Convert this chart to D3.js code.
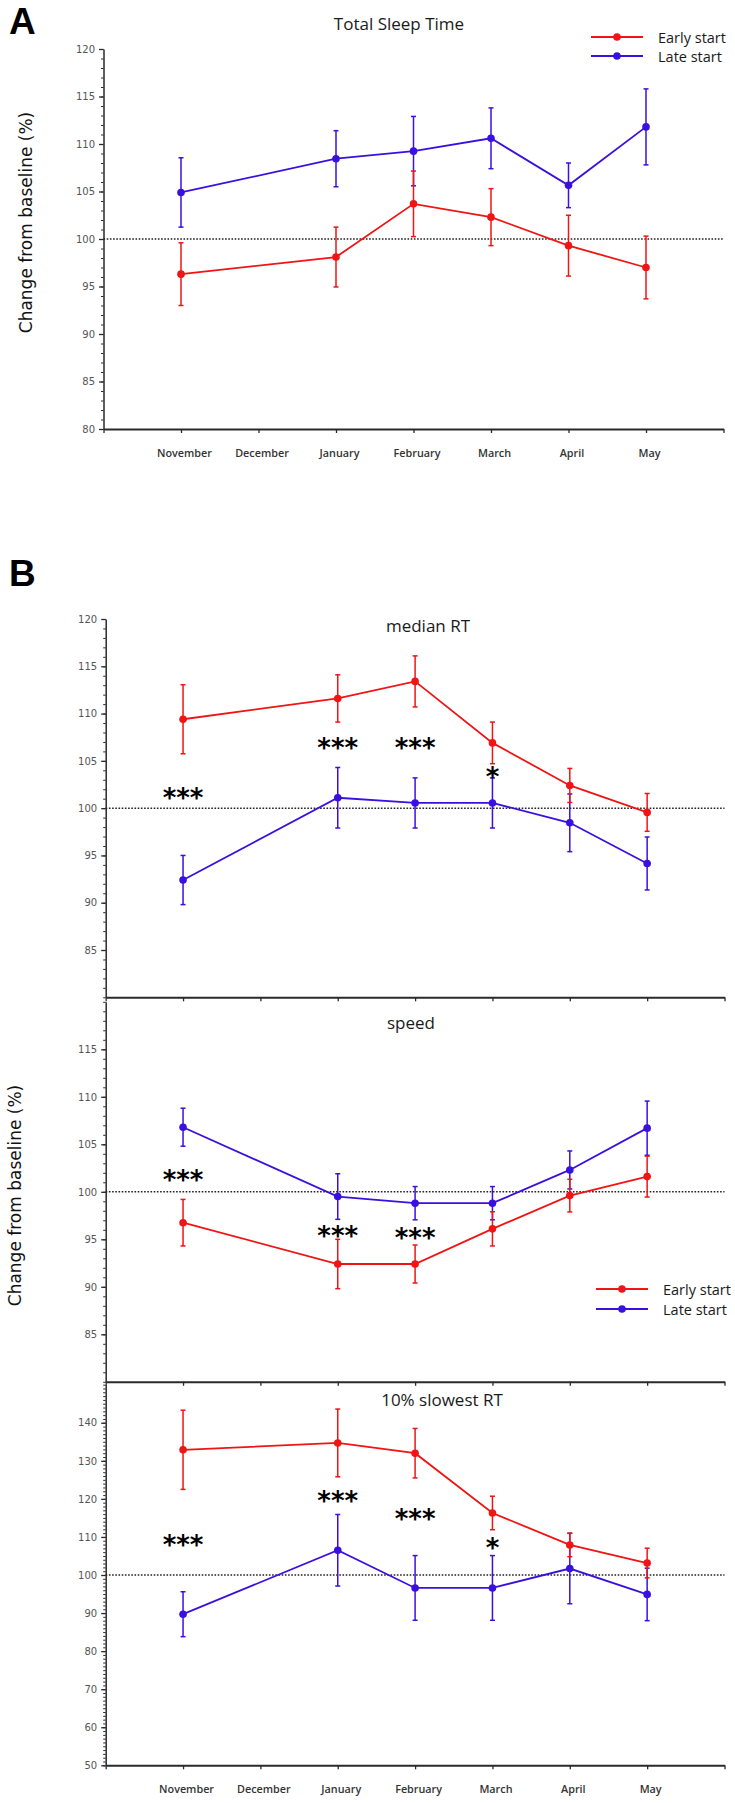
<!DOCTYPE html>
<html><head><meta charset="utf-8">
<script src="https://cdn.jsdelivr.net/npm/d3@7"></script>
<style>body{margin:0;background:#fff} svg{display:block}</style>
</head><body>
<script>
// ---------- DATA ----------
const axisMonths = ["November","December","January","February","March","April","May"];
const dataMonths = ["November","January","February","March","April","May"];
const seriesNames = ["Early start","Late start"];

// A: Total Sleep Time (mean, SEM)
const sleepEarly    = [96.3, 98.1, 103.7, 102.3, 99.3, 97.0];
const sleepEarlySem = [3.3, 3.15, 3.45, 3.0, 3.2, 3.3];
const sleepLate     = [104.9, 108.45, 109.25, 110.6, 105.65, 111.8];
const sleepLateSem  = [3.65, 2.95, 3.65, 3.2, 2.35, 4.0];

// B1: median RT
const medEarly    = [109.4, 111.6, 113.4, 106.9, 102.4, 99.55];
const medEarlySem = [3.65, 2.5, 2.7, 2.2, 1.8, 2.0];
const medLate     = [92.4, 101.1, 100.55, 100.55, 98.45, 94.15];
const medLateSem  = [2.6, 3.2, 2.65, 2.65, 3.05, 2.8];
const medStarMonths = ["November","January","February","March"];
const medStarText   = ["***","***","***","*"];
const medStarY      = [101.6, 106.9, 106.85, 103.8];

// B2: speed
const spdEarly    = [96.75, 92.4, 92.4, 96.1, 99.6, 101.6];
const spdEarlySem = [2.45, 2.6, 2.0, 1.8, 1.72, 2.15];
const spdLate     = [106.8, 99.5, 98.8, 98.8, 102.3, 106.7];
const spdLateSem  = [2.0, 2.4, 1.75, 1.75, 2.0, 2.85];
const spdStarMonths = ["November","January","February"];
const spdStarText   = ["***","***","***"];
const spdStarY      = [101.8, 95.9, 95.7];

// B3: 10% slowest RT
const slowEarly    = [132.9, 134.7, 132.0, 116.3, 107.9, 103.15];
const slowEarlySem = [10.4, 8.9, 6.5, 4.4, 3.1, 3.9];
const slowLate     = [89.7, 106.5, 96.6, 96.6, 101.7, 94.9];
const slowLateSem  = [5.9, 9.4, 8.5, 8.5, 9.25, 6.9];
const slowStarMonths = ["November","January","February","March"];
const slowStarText   = ["***","***","***","*"];
const slowStarY      = [109.1, 120.8, 116.1, 108.4];

// y tick labels
const ticksA    = [80,85,90,95,100,105,110,115,120];
const ticksMed  = [85,90,95,100,105,110,115,120];
const ticksSpd  = [85,90,95,100,105,110,115];
const ticksSlow = [50,60,70,80,90,100,110,120,130,140];

// ---------- DRAW ----------
const W = 735, H = 1803;
const RED = "#f01414", BLUE = "#3a10e0", AX = "#2a2a2a";
const svg = d3.select("body").append("svg").attr("width", W).attr("height", H)
  .style("font-family", "'Open Sans', sans-serif");
const xDomain = ["_s", ...axisMonths, "_e"];

function drawPanel(c) {
  const x = d3.scalePoint().domain(xDomain).range([c.x0, c.x1]).padding(0);
  const y = d3.scaleLinear().domain(c.domain).range([c.yBot, c.yTop]);
  const g = svg.append("g");

  // minor y ticks
  const minor = d3.range(c.domain[0], c.domain[1] + 0.001, 1);
  const ym = g.append("g").attr("transform", `translate(${c.x0},0)`)
    .call(d3.axisLeft(y).tickValues(minor).tickSize(2.5).tickSizeOuter(0).tickFormat(""));
  ym.select(".domain").attr("stroke", AX).attr("stroke-width", 1.5);
  ym.selectAll(".tick line").attr("stroke", AX).attr("stroke-width", 1);

  const ya = g.append("g").attr("transform", `translate(${c.x0},0)`)
    .call(d3.axisLeft(y).tickValues(c.ticks).tickSize(4.5).tickSizeOuter(0).tickPadding(4));
  ya.select(".domain").remove();
  ya.selectAll(".tick line").attr("stroke", AX).attr("stroke-width", 1.3);
  ya.selectAll(".tick text").attr("fill", "#555")
    .style("font-family", "'DejaVu Sans', sans-serif").style("font-size", "10px");

  // x axis
  const xa = g.append("g").attr("transform", `translate(0,${c.yBot})`)
    .call(d3.axisBottom(x).tickSize(4).tickSizeOuter(0)
      .tickFormat(d => (c.labels && axisMonths.includes(d)) ? d : ""));
  xa.select(".domain").attr("stroke", AX).attr("stroke-width", 2);
  xa.selectAll(".tick line").attr("stroke", AX).attr("stroke-width", 1.3);
  xa.selectAll(".tick text").attr("fill", "#333").attr("dx", 3).attr("dy", 0)
    .attr("y", 23).attr("dominant-baseline", "central")
    .style("font-family", "'Open Sans', sans-serif").style("font-size", "10.8px")
    .style("font-weight", 600);

  // baseline 100 dotted
  g.append("line").attr("x1", c.x0).attr("x2", c.x1)
    .attr("y1", y(100)).attr("y2", y(100))
    .attr("stroke", "#222").attr("stroke-width", 1.5).attr("stroke-dasharray", "1.6,1.6");

  // title
  g.append("text").attr("x", c.titleX).attr("y", c.titleY)
    .attr("text-anchor", "middle").attr("dominant-baseline", "central")
    .style("font-size", "17px").attr("fill", "#1a1a1a").text(c.title);

  const series = [
    {v: c.late, s: c.lateSem, col: BLUE},
    {v: c.early, s: c.earlySem, col: RED}
  ];
  series.forEach(sr => {
    const sg = g.append("g");
    const pts = dataMonths.map((m, i) => ({m, v: sr.v[i], e: sr.s[i]}));
    const eb = sg.selectAll(".eb").data(pts).join("g");
    eb.append("line").attr("x1", d => x(d.m)).attr("x2", d => x(d.m))
      .attr("y1", d => y(d.v - d.e)).attr("y2", d => y(d.v + d.e))
      .attr("stroke", sr.col).attr("stroke-width", 1.5);
    [-1, 1].forEach(k => {
      eb.append("line").attr("x1", d => x(d.m) - 2.5).attr("x2", d => x(d.m) + 2.5)
        .attr("y1", d => y(d.v + k * d.e)).attr("y2", d => y(d.v + k * d.e))
        .attr("stroke", sr.col).attr("stroke-width", 1.5);
    });
    sg.append("path").datum(pts)
      .attr("d", d3.line().x(d => x(d.m)).y(d => y(d.v)))
      .attr("fill", "none").attr("stroke", sr.col).attr("stroke-width", 1.8);
    sg.selectAll("circle").data(pts).join("circle")
      .attr("cx", d => x(d.m)).attr("cy", d => y(d.v)).attr("r", 3.8).attr("fill", sr.col);
  });

  // significance stars
  if (c.starMonths) {
    g.selectAll(".star").data(c.starMonths.map((m, i) => ({m, t: c.starText[i], v: c.starY[i]})))
      .join("text")
      .attr("x", d => x(d.m)).attr("y", d => y(d.v) + 14)
      .attr("text-anchor", "middle").attr("fill", "#000")
      .style("font-family", "'DejaVu Sans', sans-serif").style("font-size", "26px")
      .style("font-weight", "bold")
      .text(d => d.t);
  }
}

function legend(lx, ly, gap) {
  const cols = [RED, BLUE];
  seriesNames.forEach((n, i) => {
    const yy = ly + i * gap;
    svg.append("line").attr("x1", lx).attr("x2", lx + 52).attr("y1", yy).attr("y2", yy)
      .attr("stroke", cols[i]).attr("stroke-width", 1.8);
    svg.append("circle").attr("cx", lx + 26).attr("cy", yy).attr("r", 3.8).attr("fill", cols[i]);
    svg.append("text").attr("x", lx + 67).attr("y", yy).attr("dominant-baseline", "central")
      .style("font-size", "14.5px").attr("fill", "#1a1a1a").text(n);
  });
}

function yLabel(cx, cy) {
  svg.append("text").attr("transform", `translate(${cx},${cy}) rotate(-90)`)
    .attr("text-anchor", "middle").attr("dominant-baseline", "central")
    .style("font-family", "'DejaVu Sans', sans-serif").style("font-size", "17px")
    .attr("fill", "#111").text("Change from baseline (%)");
}

function letter(t, x, yb) {
  svg.append("text").attr("x", x).attr("y", yb)
    .style("font-family", "'Liberation Sans', Arial, sans-serif")
    .style("font-weight", "bold").style("font-size", "37px").attr("fill", "#000").text(t);
}

// Panel A
drawPanel({x0: 103.5, x1: 723.5, yTop: 49, yBot: 429, domain: [80, 120], ticks: ticksA,
  title: "Total Sleep Time", titleX: 399, titleY: 23, labels: true,
  early: sleepEarly, earlySem: sleepEarlySem, late: sleepLate, lateSem: sleepLateSem});
legend(591, 37, 19);
yLabel(25.5, 222.5);
letter("A", 9, 34);

// Panel B
drawPanel({x0: 105.7, x1: 724.5, yTop: 619, yBot: 997.3, domain: [80, 120], ticks: ticksMed,
  title: "median RT", titleX: 428, titleY: 625, labels: false,
  early: medEarly, earlySem: medEarlySem, late: medLate, lateSem: medLateSem,
  starMonths: medStarMonths, starText: medStarText, starY: medStarY});
drawPanel({x0: 105.7, x1: 724.5, yTop: 1001.8, yBot: 1381.8, domain: [80, 120], ticks: ticksSpd,
  title: "speed", titleX: 411, titleY: 1022, labels: false,
  early: spdEarly, earlySem: spdEarlySem, late: spdLate, lateSem: spdLateSem,
  starMonths: spdStarMonths, starText: spdStarText, starY: spdStarY});
drawPanel({x0: 105.7, x1: 724.5, yTop: 1384.7, yBot: 1765.3, domain: [50, 150], ticks: ticksSlow,
  title: "10% slowest RT", titleX: 442, titleY: 1399, labels: true,
  early: slowEarly, earlySem: slowEarlySem, late: slowLate, lateSem: slowLateSem,
  starMonths: slowStarMonths, starText: slowStarText, starY: slowStarY});
legend(596, 1289, 20);
yLabel(15, 1195.5);
letter("B", 9, 586);
</script>
</body></html>
